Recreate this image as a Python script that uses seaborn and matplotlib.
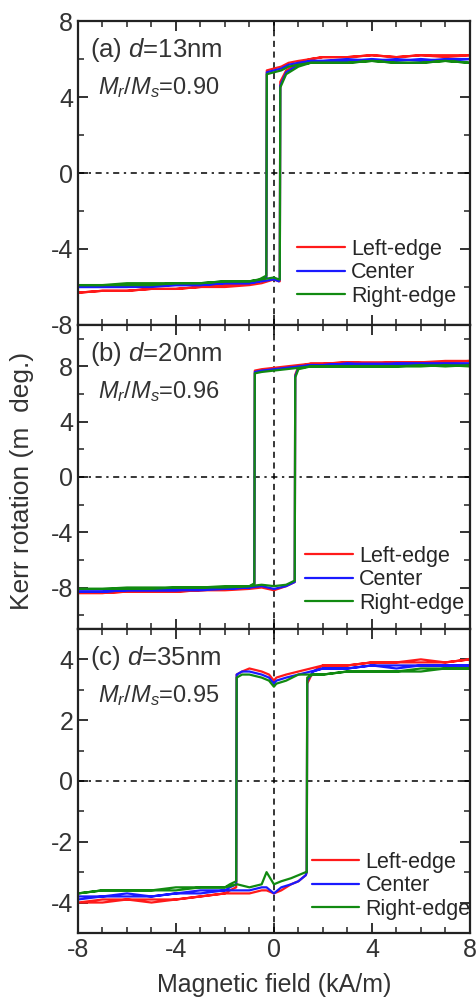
import numpy as np
import pandas as pd
import matplotlib
matplotlib.use("Agg")
import matplotlib.pyplot as plt
import seaborn as sns
from matplotlib.ticker import MultipleLocator

# ============================================================
# DATA — Kerr hysteresis loops
# ============================================================
POSITIONS = ["Left-edge", "Center", "Right-edge"]
COLORS    = {"Left-edge": "#ff1a1a", "Center": "#1a1aff", "Right-edge": "#118a11"}

# --- (a) d = 13 nm ---
a_desc_x = [8, 7, 6, 5, 4, 3, 2, 1.5, 1, 0.6, 0.3, 0, -0.29, -0.31, -0.6, -1, -2, -3, -4, -5, -6, -7, -8]
a_asc_x  = [-8, -7, -6, -5, -4, -3, -2, -1, -0.5, 0, 0.2, 0.24, 0.26, 0.5, 1, 1.5, 2, 3, 4, 5, 6, 7, 8]
a_desc_left   = [6.2, 6.1, 6.2, 6.1, 6.2, 6.1, 6.1, 6.0, 5.9, 5.8, 5.6, 5.5, 5.4, -5.5, -5.7, -5.8, -5.9, -6.0, -6.1, -6.1, -6.2, -6.2, -6.3]
a_desc_center = [6.0, 5.9, 6.0, 5.9, 6.0, 5.9, 5.9, 5.9, 5.8, 5.7, 5.5, 5.4, 5.3, -5.5, -5.7, -5.8, -5.8, -5.9, -5.9, -6.0, -6.0, -6.0, -6.0]
a_desc_right  = [5.8, 5.9, 5.8, 5.8, 5.9, 5.8, 5.8, 5.8, 5.7, 5.6, 5.4, 5.3, 5.2, -5.4, -5.6, -5.7, -5.7, -5.8, -5.8, -5.9, -5.9, -5.9, -5.9]
a_asc_left    = [-6.3, -6.2, -6.2, -6.1, -6.1, -6.0, -6.0, -5.9, -5.8, -5.6, -5.7, -5.7, 4.8, 5.4, 5.8, 6.0, 6.1, 6.1, 6.2, 6.1, 6.2, 6.2, 6.2]
a_asc_center  = [-6.0, -6.0, -6.0, -5.9, -5.9, -5.9, -5.8, -5.8, -5.7, -5.6, -5.7, -5.6, 4.6, 5.3, 5.7, 5.9, 5.9, 6.0, 5.9, 6.0, 5.9, 6.0, 6.0]
a_asc_right   = [-5.9, -5.9, -5.8, -5.8, -5.8, -5.8, -5.7, -5.7, -5.6, -5.5, -5.6, -5.6, 4.5, 5.2, 5.6, 5.8, 5.8, 5.8, 5.9, 5.8, 5.8, 5.9, 5.8]

# --- (b) d = 20 nm ---
b_desc_x = [8, 7, 6, 5, 4, 3, 2, 1.5, 1, 0.5, 0, -0.5, -0.78, -0.8, -1, -2, -3, -4, -5, -6, -7, -8]
b_asc_x  = [-8, -7, -6, -5, -4, -3, -2, -1, -0.5, 0, 0.5, 0.85, 0.87, 1.0, 1.5, 2, 3, 4, 5, 6, 7, 8]
b_desc_left   = [8.4, 8.3, 8.3, 8.3, 8.2, 8.3, 8.2, 8.2, 8.1, 8.0, 7.9, 7.8, 7.7, -7.8, -8.0, -8.1, -8.2, -8.3, -8.3, -8.3, -8.4, -8.4]
b_desc_center = [8.2, 8.2, 8.2, 8.2, 8.1, 8.2, 8.1, 8.1, 8.0, 7.9, 7.8, 7.7, 7.6, -7.8, -8.0, -8.1, -8.1, -8.2, -8.2, -8.2, -8.3, -8.3]
b_desc_right  = [8.0, 8.1, 8.0, 8.0, 8.0, 8.0, 8.0, 8.0, 7.9, 7.8, 7.7, 7.6, 7.5, -7.7, -7.9, -8.0, -8.0, -8.0, -8.1, -8.1, -8.1, -8.1]
b_asc_left    = [-8.4, -8.4, -8.3, -8.3, -8.3, -8.2, -8.2, -8.1, -8.0, -8.2, -7.9, -7.6, 7.4, 8.0, 8.2, 8.2, 8.3, 8.3, 8.3, 8.3, 8.4, 8.4]
b_asc_center  = [-8.3, -8.3, -8.2, -8.2, -8.2, -8.2, -8.1, -8.0, -7.9, -8.1, -7.9, -7.6, 7.3, 7.9, 8.1, 8.1, 8.2, 8.2, 8.2, 8.2, 8.2, 8.2]
b_asc_right   = [-8.1, -8.1, -8.0, -8.0, -8.0, -8.0, -7.9, -7.9, -7.8, -7.9, -7.8, -7.5, 7.2, 7.8, 8.0, 8.0, 8.0, 8.0, 8.0, 8.1, 8.0, 8.1]

# --- (c) d = 35 nm ---
c_desc_x = [8, 7, 6, 5, 4, 3, 2, 1.5, 1, 0.5, 0.1, 0, -0.2, -0.5, -1, -1.3, -1.52, -1.54, -1.8, -2, -3, -4, -5, -6, -7, -8]
c_asc_x  = [-8, -7, -6, -5, -4, -3, -2, -1.5, -1, -0.5, -0.3, 0, 0.3, 0.7, 1.0, 1.3, 1.34, 1.36, 1.6, 2, 3, 4, 5, 6, 7, 8]
c_desc_left   = [4.0, 3.9, 3.9, 3.9, 3.9, 3.8, 3.8, 3.7, 3.6, 3.5, 3.4, 3.3, 3.5, 3.6, 3.7, 3.6, 3.5, -3.5, -3.6, -3.7, -3.8, -3.9, -4.0, -3.9, -4.0, -4.0]
c_desc_center = [3.8, 3.8, 3.8, 3.7, 3.8, 3.7, 3.7, 3.6, 3.5, 3.4, 3.3, 3.2, 3.4, 3.5, 3.6, 3.6, 3.5, -3.4, -3.5, -3.6, -3.6, -3.7, -3.8, -3.8, -3.8, -3.9]
c_desc_right  = [3.7, 3.7, 3.6, 3.6, 3.6, 3.6, 3.5, 3.5, 3.5, 3.3, 3.2, 3.1, 3.3, 3.4, 3.5, 3.5, 3.4, -3.3, -3.4, -3.5, -3.5, -3.6, -3.6, -3.6, -3.6, -3.7]
c_asc_left    = [-4.0, -3.9, -3.9, -3.9, -3.9, -3.8, -3.7, -3.7, -3.7, -3.6, -3.6, -3.7, -3.6, -3.4, -3.3, -3.1, -3.0, 3.2, 3.6, 3.8, 3.8, 3.9, 3.9, 4.0, 3.9, 4.0]
c_asc_center  = [-3.8, -3.8, -3.7, -3.8, -3.7, -3.7, -3.6, -3.6, -3.6, -3.5, -3.5, -3.7, -3.5, -3.4, -3.3, -3.1, -3.0, 3.3, 3.6, 3.7, 3.7, 3.8, 3.8, 3.8, 3.8, 3.8]
c_asc_right   = [-3.7, -3.6, -3.6, -3.6, -3.5, -3.5, -3.5, -3.4, -3.5, -3.4, -3.0, -3.4, -3.3, -3.2, -3.1, -3.0, -3.0, 3.4, 3.5, 3.5, 3.6, 3.6, 3.6, 3.7, 3.7, 3.7]

# label, ratio, x (down), x (up), y (down), y (up), ylim, major, minor, legend anchor
PANELS = [
    ("(a) $d$=13nm", "$M_r/M_s$=0.90", a_desc_x, a_asc_x,
     [a_desc_left, a_desc_center, a_desc_right], [a_asc_left, a_asc_center, a_asc_right],
     (-8, 8), 4, 2, (0.56, 0.06)),
    ("(b) $d$=20nm", "$M_r/M_s$=0.96", b_desc_x, b_asc_x,
     [b_desc_left, b_desc_center, b_desc_right], [b_asc_left, b_asc_center, b_asc_right],
     (-11, 11), 4, 2, (0.58, 0.05)),
    ("(c) $d$=35nm", "$M_r/M_s$=0.95", c_desc_x, c_asc_x,
     [c_desc_left, c_desc_center, c_desc_right], [c_asc_left, c_asc_center, c_asc_right],
     (-5, 5), 2, 1, (0.597, 0.043)),
]

# ============================================================
# STYLE
# ============================================================
sns.set_theme(style="ticks")
plt.rcParams["font.family"] = ["Liberation Sans", "DejaVu Sans"]
plt.rcParams["mathtext.fontset"] = "custom"
plt.rcParams["mathtext.rm"] = "Liberation Sans"
plt.rcParams["mathtext.it"] = "Liberation Sans:italic"
plt.rcParams["axes.unicode_minus"] = False
plt.rcParams["axes.linewidth"] = 1.6
plt.rcParams["axes.edgecolor"] = "#222222"

fig, axes = plt.subplots(3, 1, figsize=(4.77, 10.01), dpi=100, sharex=True)
fig.subplots_adjust(left=0.1635, right=0.985, top=0.979, bottom=0.068, hspace=0)

for ax, (title, ratio, dx, ux, dys, uys, ylim, ymaj, ymin, anchor) in zip(axes, PANELS):
    rows = []
    for pos, yd, yu in zip(POSITIONS, dys, uys):
        for x, y in zip(list(dx) + list(ux), list(yd) + list(yu)):
            rows.append({"field": x, "kerr": y, "position": pos})
    df = pd.DataFrame(rows)

    ax.axhline(0, color="black", lw=1.1, ls=(0, (4, 3, 1.5, 3)), zorder=1)
    ax.axvline(0, color="black", lw=1.1, ls=(0, (4, 3)), zorder=1)

    sns.lineplot(data=df, x="field", y="kerr", hue="position", hue_order=POSITIONS,
                 palette=COLORS, sort=False, estimator=None, linewidth=1.6, ax=ax)

    handles, labels = ax.get_legend_handles_labels()
    ax.legend(handles, labels, loc="lower left", bbox_to_anchor=anchor,
              frameon=False, fontsize=15.5, handlelength=2.2, handletextpad=0.3,
              labelspacing=0.12, borderpad=0, borderaxespad=0)

    ax.set_xlim(-8, 8)
    ax.set_ylim(*ylim)
    ax.xaxis.set_major_locator(MultipleLocator(4))
    ax.xaxis.set_minor_locator(MultipleLocator(1))
    ax.yaxis.set_major_locator(MultipleLocator(ymaj))
    ax.yaxis.set_minor_locator(MultipleLocator(ymin))
    ax.tick_params(which="both", direction="in", top=True, right=True, colors="#222222",
                   labelsize=18, labelcolor="#333333")
    ax.tick_params(which="major", length=7, width=1.3)
    ax.tick_params(which="minor", length=4, width=1.1)
    ax.set_xlabel("")
    ax.set_ylabel("")

    ax.text(0.03, 0.905, title, transform=ax.transAxes, fontsize=18.5,
            color="#333333", va="center", ha="left")
    ax.text(0.05, 0.78, ratio, transform=ax.transAxes, fontsize=17,
            color="#333333", va="center", ha="left")

axes[-1].set_xlabel("Magnetic field (kA/m)", fontsize=18, color="#333333", labelpad=8)
fig.text(0.046, 0.52, "Kerr rotation (m  deg.)", rotation=90, fontsize=19,
         color="#333333", va="center", ha="center")

plt.savefig("out.png", dpi=100)
